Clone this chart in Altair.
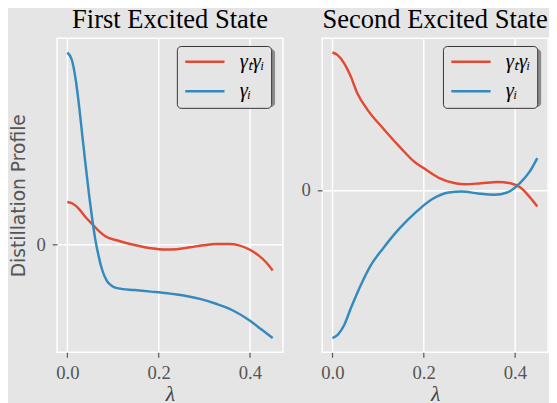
import altair as alt
import pandas as pd

series_names = ["γₜγᵢ", "γᵢ"]
series_colors = ["#E24A33", "#348ABD"]
panel_titles = ["First Excited State", "Second Excited State"]
x_ticks = [0.0, 0.2, 0.4]

# First excited state
lam_1_red = [0.0, 0.0114, 0.0258, 0.040, 0.054, 0.0687, 0.083, 0.1116, 0.147, 0.183,
             0.212, 0.240, 0.269, 0.298, 0.326, 0.355, 0.376, 0.398, 0.419, 0.437, 0.450]
val_1_red = [0.433, 0.417, 0.36, 0.277, 0.21, 0.137, 0.083, 0.037, -0.007, -0.04,
             -0.053, -0.05, -0.03, -0.01, 0.003, 0.003, -0.01, -0.05, -0.113, -0.19, -0.267]
lam_1_blue = [0.0, 0.0099, 0.0185, 0.0258, 0.0328, 0.040, 0.048, 0.054, 0.0615, 0.0687,
              0.076, 0.0866, 0.097, 0.1116, 0.147, 0.183, 0.219, 0.255, 0.2905, 0.326,
              0.362, 0.398, 0.4265, 0.450]
val_1_blue = [1.96, 1.883, 1.676, 1.41, 1.11, 0.81, 0.49, 0.277, 0.043, -0.123,
              -0.257, -0.373, -0.423, -0.45, -0.467, -0.483, -0.5, -0.523, -0.557, -0.607,
              -0.673, -0.773, -0.873, -0.957]

# Second excited state
lam_2_red = [0.0, 0.0114, 0.0257, 0.040, 0.054, 0.0758, 0.1116, 0.147, 0.183, 0.197,
             0.233, 0.269, 0.290, 0.326, 0.362, 0.390, 0.412, 0.433, 0.449]
val_2_red = [1.40, 1.373, 1.29, 1.157, 0.99, 0.823, 0.623, 0.44, 0.273, 0.23,
             0.123, 0.067, 0.057, 0.067, 0.08, 0.067, 0.023, -0.077, -0.17]
lam_2_blue = [0.0, 0.0114, 0.0258, 0.040, 0.0615, 0.083, 0.1116, 0.147, 0.183, 0.219,
              0.255, 0.283, 0.319, 0.355, 0.383, 0.412, 0.433, 0.449]
val_2_blue = [-1.51, -1.477, -1.377, -1.21, -0.977, -0.777, -0.593, -0.393, -0.227, -0.093,
              -0.027, -0.017, -0.037, -0.05, -0.027, 0.073, 0.19, 0.323]

y_domains = [[-1.103, 2.106], [-1.656, 1.546]]
x_domain = [-0.0225, 0.4725]

PLOT_W, PLOT_H = 230, 320
LEG_W, LEG_H = 97, 59


def frame(lr, vr, lb, vb):
    a = pd.DataFrame({"lam": lr, "v": vr, "series": series_names[0], "k": 0})
    b = pd.DataFrame({"lam": lb, "v": vb, "series": series_names[1], "k": 1})
    return pd.concat([a, b], ignore_index=True)


def panel(df, ydom, title, ytitle, legx):
    if ytitle:
        yaxis = alt.Axis(values=[0], format="d", title=ytitle)
    else:
        yaxis = alt.Axis(values=[0], format="d", title=None)
    lines = alt.Chart(df).mark_line(strokeWidth=2.5, interpolate="monotone").encode(
        x=alt.X("lam:Q", scale=alt.Scale(domain=x_domain, nice=False, zero=False),
                axis=alt.Axis(values=x_ticks, format=".1f", title="λ")),
        y=alt.Y("v:Q", scale=alt.Scale(domain=ydom, nice=False, zero=False), axis=yaxis),
        color=alt.Color("series:N", sort=series_names,
                        scale=alt.Scale(domain=series_names, range=series_colors),
                        legend=alt.Legend(title=None, orient="none", legendX=legx, legendY=8,
                                          symbolType="stroke", symbolSize=1600,
                                          symbolStrokeWidth=2.5, labelFont="Liberation Serif",
                                          labelFontStyle="italic", labelFontSize=21,
                                          labelColor="black", labelOffset=14,
                                          fillColor="#E5E5E5", strokeColor="#333333",
                                          cornerRadius=4, padding=7,
                                          clipHeight=18, rowPadding=9)),
        order="k:Q",
    )
    shadow = alt.Chart(pd.DataFrame({"s": [0]})).mark_rect(
        color="#444444", opacity=0.55, cornerRadius=4
    ).encode(
        x=alt.value(legx + 3), x2=alt.value(legx + 3 + LEG_W),
        y=alt.value(11), y2=alt.value(11 + LEG_H),
    )
    return alt.layer(shadow, lines).properties(
        width=PLOT_W, height=PLOT_H,
        title=alt.TitleParams(title, font="Liberation Serif", fontSize=27,
                              fontWeight="normal", color="black", offset=4,
                              anchor="middle", frame="group"),
    )


left = panel(frame(lam_1_red, val_1_red, lam_1_blue, val_1_blue), y_domains[0],
             panel_titles[0], "Distillation Profile", 122)
right = panel(frame(lam_2_red, val_2_red, lam_2_blue, val_2_blue), y_domains[1],
              panel_titles[1], None, 123)

chart = alt.hconcat(left, right, spacing=40, bounds="flush").resolve_scale(
    color="independent", x="independent", y="independent"
).resolve_legend(color="independent").configure(
    background="#E5E5E5",
    padding={"left": 0, "top": -6, "right": 0, "bottom": 0},
).configure_view(
    fill="#E5E5E5", stroke="white", strokeWidth=1.5,
).configure_axis(
    gridColor="white", gridWidth=1.5, domain=False,
    tickColor="#555555", tickSize=5, tickWidth=1.2,
    labelFont="Liberation Serif", labelFontSize=19, labelColor="#555555",
    labelPadding=7,
).configure_axisX(
    titleFont="Liberation Serif", titleFontStyle="italic", titleFontWeight="normal",
    titleFontSize=22, titleColor="#444444", titlePadding=1,
).configure_axisY(
    titleFont="DejaVu Sans", titleFontWeight="normal", titleFontSize=19,
    titleColor="#555555", titlePadding=8,
)

chart.save("out.html", embed_options={"renderer": "svg", "actions": False})
